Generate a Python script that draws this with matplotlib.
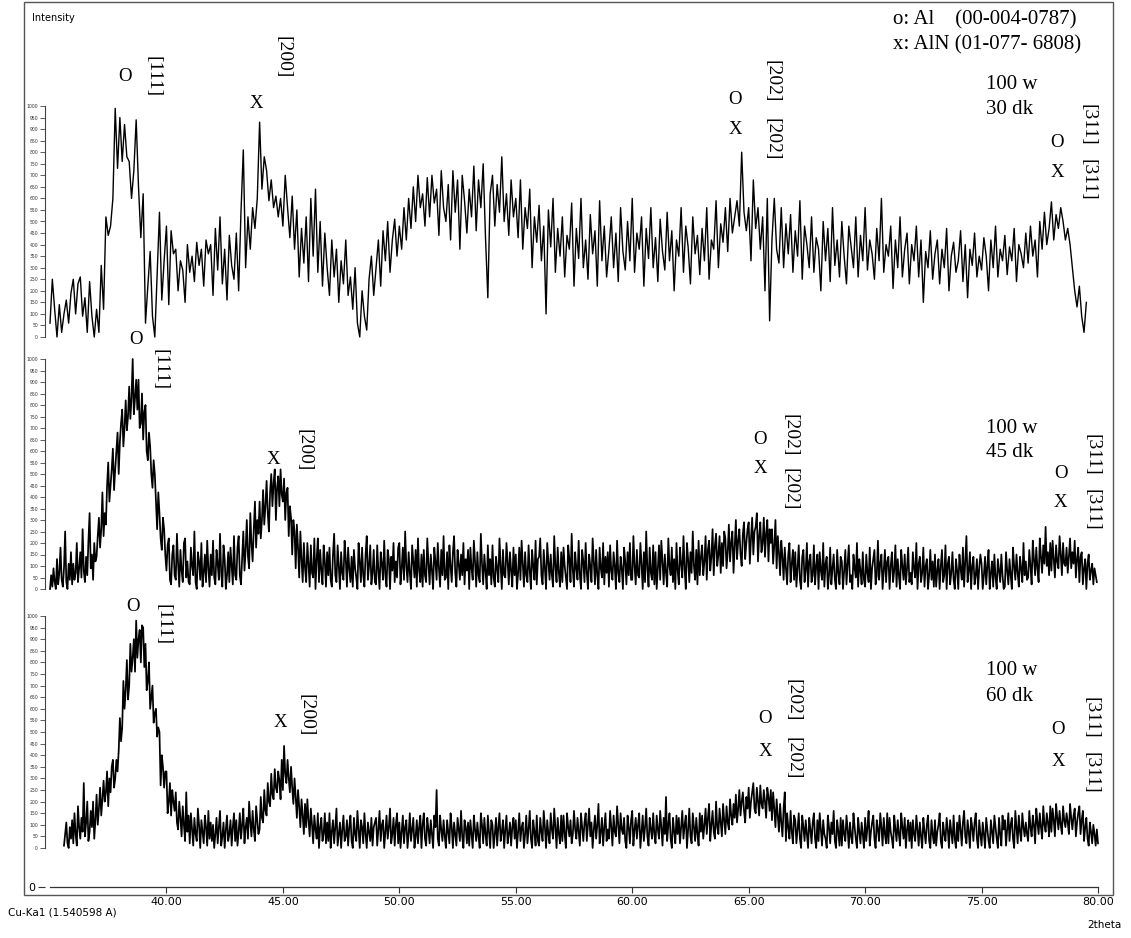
import numpy as np
import matplotlib
matplotlib.use("Agg")
import matplotlib.pyplot as plt
from matplotlib.patches import Rectangle

# ---------------- data ----------------
top_step = 0.1
dense_step = 0.05
top_start = 35.0      # 100 w, 30 dk
mid_start = 35.0      # 100 w, 45 dk
bot_start = 35.6      # 100 w, 60 dk

top_30dk = [
    60, 250, 120, 0, 140, 20, 100, 160, 60, 190,
    250, 100, 230, 260, 90, 170, 20, 240, 90, 0,
    120, 20, 310, 120, 520, 440, 480, 600, 990, 730,
    950, 760, 920, 780, 760, 600, 720, 940, 650, 430,
    620, 60, 220, 370, 90, 0, 270, 540, 160, 330,
    480, 140, 460, 360, 380, 200, 330, 290, 150, 400,
    280, 350, 240, 410, 310, 380, 220, 420, 360, 400,
    180, 470, 290, 520, 230, 380, 160, 440, 310, 250,
    450, 200, 540, 810, 300, 520, 380, 560, 470, 600,
    930, 640, 780, 720, 590, 680, 560, 610, 520, 600,
    480, 700, 560, 430, 610, 380, 550, 260, 470, 320,
    520, 240, 600, 350, 640, 280, 500, 220, 450, 300,
    180, 420, 260, 380, 150, 330, 230, 420, 180, 260,
    120, 300, 60, 0, 200, 90, 30, 250, 350, 180,
    300, 420, 220, 460, 330, 500, 280, 420, 510, 350,
    480, 380, 560, 420, 600, 470, 650, 500, 700, 560,
    620, 480, 690, 520, 700, 580, 640, 440, 720, 560,
    500, 660, 420, 720, 540, 680, 380, 700, 590, 450,
    640, 520, 740, 460, 680, 560, 750, 430, 170, 620,
    700, 480, 660, 540, 780, 500, 620, 440, 680, 520,
    600, 430, 680, 380, 560, 470, 640, 300, 520, 410,
    570, 330, 480, 100, 550, 390, 600, 280, 470, 350,
    520, 260, 440, 380, 580, 220, 470, 340, 600, 300,
    420, 250, 530, 360, 460, 220, 590, 330, 480, 260,
    380, 520, 300, 450, 240, 560, 370, 290, 500, 330,
    600, 280, 450, 380, 520, 220, 470, 340, 560, 300,
    430, 240, 510, 370, 290, 540, 330, 460, 200, 420,
    350, 560, 280, 480, 390, 230, 520, 360, 440, 270,
    470, 330, 560, 250, 420, 380, 590, 300, 490, 410,
    560, 370, 600, 450, 520, 590, 480, 800, 540, 460,
    560, 330, 680, 470, 560, 380, 520, 200, 600, 70,
    420, 600, 380, 320, 560, 300, 490, 360, 530, 280,
    460, 350, 590, 250, 480, 400, 300, 520, 280, 430,
    380, 200, 500, 330, 470, 240, 560, 310, 420, 260,
    500, 350, 230, 480, 390, 300, 520, 260, 440, 330,
    560, 290, 420, 360, 250, 470, 330, 600, 280, 400,
    350, 480, 210, 420, 300, 520, 260, 380, 450, 230,
    400, 330, 480, 260, 420, 150, 370, 300, 460, 250,
    360, 420, 230, 380, 300, 470, 200, 350, 410, 280,
    330, 460, 240, 400, 170, 380, 310, 450, 260, 350,
    290, 430, 350, 200, 420, 300, 480, 260, 380, 330,
    440, 270, 390, 330, 470, 240, 400, 360, 300, 450,
    320, 480, 350, 420, 260, 500, 380, 540, 400, 470,
    585, 420, 530, 470, 560, 500, 420, 470, 400, 300,
    200, 130, 220, 90, 20, 150,
]

mid_45dk = [
    0, 60, 10, 90, 30, 0, 130, 20, 70, 180, 40, 10, 90, 250, 30, 0, 110, 40, 160, 20,
    110, 40, 70, 200, 30, 90, 160, 50, 260, 80, 30, 140, 60, 210, 330, 90, 150, 40, 200, 120,
    140, 230, 310, 180, 260, 420, 230, 330, 280, 450, 550, 380, 450, 520, 610, 430, 520, 600, 680, 500,
    640, 720, 780, 620, 700, 820, 690, 750, 880, 740, 830, 1000, 760, 830, 910, 780, 910, 700, 720, 850,
    650, 770, 800, 600, 560, 680, 620, 500, 440, 560, 500, 380, 260, 420, 330, 220, 170, 310, 260, 150,
    80, 190, 220, 40, 20, 150, 190, 60, 40, 240, 110, 10, 170, 80, 30, 200, 220, 50, 120, 30,
    20, 180, 100, 60, 250, 30, 0, 160, 120, 40, 200, 10, 70, 150, 30, 210, 90, 10, 150, 60,
    210, 50, 20, 170, 110, 40, 240, 70, 10, 190, 130, 0, 60, 160, 30, 180, 100, 20, 230, 60,
    40, 180, 230, 60, 20, 140, 250, 80, 170, 300, 140, 90, 330, 200, 120, 260, 380, 180, 300, 240,
    380, 220, 300, 430, 280, 360, 470, 330, 250, 420, 500, 360, 460, 520, 300, 440, 490, 360, 520, 410,
    380, 480, 300, 420, 440, 230, 360, 310, 150, 300, 250, 90, 280, 180, 50, 250, 130, 30, 200, 90,
    30, 200, 110, 10, 190, 70, 50, 220, 0, 130, 220, 30, 170, 80, 20, 190, 120, 10, 160, 60,
    180, 40, 10, 150, 240, 60, 30, 190, 100, 0, 160, 70, 40, 210, 130, 10, 180, 90, 30, 140,
    10, 170, 90, 50, 0, 200, 120, 30, 180, 60, 10, 150, 230, 40, 100, 190, 20, 70, 170, 30,
    20, 190, 80, 0, 160, 110, 40, 210, 60, 10, 170, 130, 0, 140, 80, 200, 30, 120, 50, 180,
    200, 20, 90, 180, 40, 250, 100, 30, 160, 70, 0, 190, 120, 50, 170, 10, 220, 80, 30, 150,
    10, 170, 60, 30, 220, 110, 20, 150, 80, 0, 180, 120, 40, 200, 90, 10, 170, 60, 230, 40,
    50, 160, 0, 190, 100, 30, 160, 230, 70, 10, 170, 110, 40, 150, 60, 200, 20, 130, 80, 170,
    0, 180, 90, 40, 210, 120, 10, 160, 60, 30, 240, 110, 20, 150, 80, 0, 190, 60, 130, 20,
    190, 50, 10, 140, 90, 30, 220, 100, 0, 170, 60, 50, 200, 120, 20, 160, 80, 10, 180, 60,
    150, 0, 70, 180, 40, 210, 110, 10, 160, 60, 30, 190, 80, 0, 170, 100, 40, 210, 20, 130,
    140, 220, 60, 20, 170, 90, 0, 200, 120, 40, 150, 60, 10, 230, 100, 30, 180, 70, 10, 160,
    30, 180, 100, 50, 0, 190, 130, 30, 240, 80, 10, 160, 90, 40, 210, 60, 0, 170, 120, 30,
    200, 70, 0, 150, 100, 30, 220, 120, 20, 170, 60, 0, 180, 90, 50, 200, 20, 140, 70, 160,
    10, 190, 80, 40, 160, 100, 0, 210, 70, 30, 140, 90, 0, 180, 120, 20, 160, 60, 200, 40,
    40, 230, 100, 20, 170, 60, 50, 200, 110, 0, 160, 30, 250, 90, 10, 180, 70, 40, 190, 20,
    160, 0, 90, 190, 40, 210, 120, 20, 150, 70, 10, 220, 100, 60, 180, 30, 130, 0, 200, 80,
    20, 180, 110, 50, 230, 90, 0, 200, 130, 30, 160, 70, 250, 100, 40, 170, 20, 210, 60, 140,
    190, 60, 120, 230, 40, 170, 210, 80, 140, 260, 60, 190, 240, 100, 150, 230, 70, 200, 100, 250,
    220, 90, 160, 280, 120, 200, 250, 70, 180, 300, 130, 210, 260, 150, 100, 240, 290, 130, 200, 260,
    290, 110, 220, 310, 150, 250, 270, 330, 120, 230, 290, 160, 200, 310, 140, 240, 300, 120, 260, 200,
    260, 110, 190, 300, 90, 230, 160, 60, 210, 140, 40, 180, 90, 20, 150, 200, 30, 110, 170, 40,
    160, 10, 90, 190, 40, 0, 140, 170, 30, 80, 200, 10, 120, 150, 30, 60, 190, 20, 100, 150,
    0, 160, 80, 40, 200, 10, 110, 140, 0, 60, 180, 20, 90, 150, 40, 0, 170, 70, 20, 140,
    120, 0, 80, 170, 20, 110, 190, 30, 60, 0, 150, 90, 50, 200, 10, 130, 80, 20, 160, 40,
    10, 150, 70, 30, 180, 0, 90, 130, 170, 20, 60, 210, 40, 110, 150, 0, 80, 170, 30, 120,
    140, 0, 100, 160, 30, 80, 190, 10, 130, 60, 0, 170, 100, 40, 150, 20, 90, 180, 30, 70,
    20, 160, 90, 50, 200, 0, 110, 140, 30, 70, 180, 10, 100, 130, 0, 60, 170, 40, 120, 10,
    150, 10, 80, 130, 0, 100, 170, 30, 60, 190, 0, 110, 140, 20, 70, 160, 40, 0, 130, 80,
    0, 150, 90, 40, 180, 10, 120, 230, 30, 80, 160, 0, 100, 140, 20, 60, 130, 0, 90, 150,
    110, 0, 60, 140, 20, 100, 170, 0, 70, 120, 10, 150, 50, 0, 130, 80, 30, 150, 60, 0,
    10, 160, 80, 20, 130, 60, 0, 180, 100, 40, 150, 70, 10, 140, 90, 30, 200, 60, 120, 40,
    50, 170, 100, 20, 210, 130, 60, 180, 90, 30, 220, 140, 70, 190, 110, 270, 100, 160, 60, 200,
    80, 210, 130, 50, 190, 120, 90, 230, 150, 60, 200, 110, 100, 180, 70, 140, 220, 90, 160, 110,
    210, 50, 130, 180, 30, 140, 160, 20, 90, 130, 0, 110, 150, 40, 80, 110, 20, 90, 60, 30,
]

bot_60dk = [
    10, 60, 110, 20, 0, 90, 40, 120,
    20, 150, 60, 10, 180, 90, 40, 130, 70, 280, 50, 110, 200, 30, 70, 160, 90, 200, 40, 120,
    230, 100, 170, 260, 140, 210, 290, 200, 240, 330, 180, 300, 240, 350, 380, 260, 300, 380, 330, 420,
    560, 460, 520, 720, 600, 680, 810, 640, 700, 880, 760, 820, 900, 760, 980, 820, 900, 940, 800, 960,
    950, 780, 880, 680, 720, 800, 600, 650, 700, 540, 580, 600, 480, 520, 500, 270, 400, 350, 260, 330,
    330, 150, 200, 280, 140, 250, 200, 160, 240, 110, 80, 200, 130, 50, 180, 100, 30, 240, 70, 140,
    20, 150, 80, 10, 130, 60, 30, 170, 100, 0, 120, 70, 20, 140, 90, 10, 160, 40, 110, 30,
    100, 0, 60, 130, 20, 90, 160, 10, 50, 110, 0, 80, 140, 30, 60, 120, 10, 90, 150, 30,
    120, 10, 70, 150, 40, 100, 170, 20, 90, 130, 40, 200, 110, 50, 160, 80, 30, 180, 120, 60,
    80, 220, 130, 110, 250, 160, 140, 280, 200, 180, 320, 230, 210, 340, 260, 240, 330, 290, 210, 380,
    250, 440, 320, 280, 380, 300, 240, 350, 260, 190, 300, 220, 130, 250, 180, 90, 210, 140, 60, 190,
    90, 210, 120, 50, 170, 100, 20, 140, 80, 40, 150, 0, 90, 130, 30, 60, 150, 20, 110, 30,
    150, 0, 70, 120, 20, 90, 170, 10, 60, 110, 0, 80, 140, 30, 50, 120, 10, 90, 140, 30,
    0, 130, 60, 30, 160, 80, 0, 120, 90, 20, 150, 60, 0, 110, 70, 30, 130, 10, 90, 110,
    130, 10, 80, 160, 30, 100, 120, 0, 70, 140, 40, 90, 170, 20, 60, 130, 10, 100, 150, 20,
    110, 0, 70, 140, 20, 90, 120, 0, 60, 150, 30, 80, 130, 0, 50, 120, 20, 90, 140, 0,
    100, 150, 40, 10, 130, 80, 20, 120, 60, 0, 140, 90, 250, 40, 10, 140, 80, 30, 120, 50,
    0, 120, 70, 20, 150, 90, 0, 110, 60, 10, 130, 80, 30, 160, 50, 0, 120, 90, 20, 110,
    10, 120, 60, 0, 140, 80, 30, 110, 50, 0, 150, 100, 20, 130, 60, 10, 140, 70, 0, 120,
    100, 0, 60, 130, 10, 90, 150, 30, 70, 120, 0, 80, 140, 20, 60, 110, 10, 90, 130, 40,
    120, 0, 70, 150, 30, 90, 110, 0, 60, 140, 20, 80, 160, 40, 0, 120, 70, 10, 140, 30,
    10, 130, 70, 30, 160, 90, 0, 120, 60, 20, 150, 80, 40, 170, 90, 0, 130, 60, 20, 140,
    30, 140, 60, 0, 150, 90, 50, 120, 20, 60, 160, 80, 40, 130, 70, 10, 150, 90, 30, 110,
    150, 30, 100, 170, 50, 110, 0, 80, 140, 40, 100, 190, 20, 70, 130, 10, 90, 150, 30, 80,
    40, 160, 90, 10, 140, 70, 50, 180, 100, 20, 150, 80, 60, 130, 30, 0, 140, 90, 20, 120,
    160, 10, 80, 130, 40, 100, 150, 0, 70, 140, 30, 90, 170, 50, 10, 130, 80, 40, 150, 60,
    20, 140, 80, 40, 160, 90, 10, 130, 60, 220, 30, 100, 150, 40, 0, 130, 70, 20, 140, 60,
    130, 20, 90, 160, 40, 100, 140, 0, 80, 170, 50, 20, 150, 90, 30, 130, 60, 10, 150, 70,
    140, 40, 100, 170, 60, 130, 190, 30, 100, 160, 70, 40, 200, 90, 60, 170, 110, 50, 190, 120,
    60, 180, 110, 80, 210, 140, 100, 190, 130, 230, 110, 170, 250, 140, 200, 240, 160, 110, 220, 170,
    260, 130, 200, 240, 280, 170, 150, 260, 200, 140, 270, 190, 170, 250, 200, 130, 260, 220, 160, 250,
    120, 240, 170, 90, 210, 140, 70, 190, 110, 50, 170, 240, 30, 150, 90, 40, 160, 70, 20, 140,
    120, 20, 80, 150, 40, 0, 140, 90, 30, 120, 60, 0, 130, 80, 20, 110, 150, 40, 0, 120,
    30, 150, 80, 10, 120, 60, 40, 0, 140, 90, 20, 110, 60, 160, 30, 0, 120, 70, 10, 130,
    10, 120, 60, 30, 140, 80, 0, 110, 50, 20, 150, 90, 40, 0, 130, 70, 20, 110, 60, 0,
    130, 30, 90, 160, 10, 70, 110, 140, 40, 0, 120, 80, 30, 150, 90, 10, 130, 60, 20, 150,
    20, 130, 70, 40, 0, 140, 80, 30, 120, 60, 10, 150, 90, 40, 130, 0, 80, 120, 30, 110,
    0, 120, 60, 30, 140, 80, 10, 110, 50, 0, 130, 70, 20, 100, 140, 30, 0, 120, 60, 20,
    120, 10, 70, 100, 150, 30, 0, 110, 60, 30, 130, 80, 0, 120, 70, 20, 140, 40, 0, 110,
    30, 140, 80, 10, 110, 160, 50, 20, 120, 70, 0, 130, 90, 30, 110, 150, 40, 0, 120, 60,
    10, 110, 60, 0, 130, 80, 30, 0, 120, 70, 20, 140, 90, 40, 0, 130, 60, 10, 140, 80,
    120, 10, 80, 150, 30, 100, 130, 40, 0, 160, 90, 20, 140, 70, 30, 150, 90, 50, 110, 60,
    30, 160, 90, 50, 140, 100, 20, 170, 110, 60, 150, 90, 40, 180, 100, 70, 150, 110, 50, 180,
    70, 170, 120, 50, 190, 130, 80, 160, 100, 60, 180, 120, 90, 150, 110, 60, 190, 130, 80, 140,
    170, 50, 110, 150, 180, 60, 120, 160, 30, 90, 130, 40, 10, 110, 70, 20, 100, 60, 10, 80,
    20,
]

x_ticks = [40, 45, 50, 55, 60, 65, 70, 75, 80]
y_ticks = list(range(0, 1001, 50))

legend_lines = ["o: Al    (00-004-0787)", "x: AlN (01-077- 6808)"]
panel_labels = [["100 w", "30 dk"], ["100 w", "45 dk"], ["100 w", "60 dk"]]

# ---------------- layout ----------------
W, H = 1131, 938
fig = plt.figure(figsize=(W / 100, H / 100), dpi=100)
fig.patch.set_facecolor("white")


def fx(px):
    return px / W


def fy(py):
    return 1 - py / H


X_LEFT, X_RIGHT = 45, 1098
XMIN, XMAX = 34.785, 80.0
SERIF = "Liberation Serif"
FS_MARK = 13.5
FS_HKL = 14
FS_TXT = 15

# outer frame
fig.add_artist(Rectangle((fx(24), fy(895)), fx(1113 - 24), (895 - 2) / H,
                         transform=fig.transFigure, fill=False,
                         edgecolor="#555555", linewidth=1.0))

# outer x axis
axo = fig.add_axes([fx(X_LEFT), fy(887), fx(X_RIGHT - X_LEFT), 20 / H])
axo.patch.set_alpha(0)
axo.set_xlim(XMIN, XMAX)
axo.set_ylim(0, 1)
for s in ("top", "right", "left"):
    axo.spines[s].set_visible(False)
axo.spines["bottom"].set_bounds(35, 80)
axo.spines["bottom"].set_color("#333333")
axo.spines["bottom"].set_linewidth(0.9)
axo.set_xticks(x_ticks)
axo.set_xticklabels([f"{t:.2f}" for t in x_ticks])
axo.set_yticks([0])
axo.set_yticklabels(["0"])
axo.tick_params(axis="x", direction="out", length=4, width=0.8, labelsize=8,
                color="#333333", pad=3)
axo.tick_params(axis="y", direction="out", length=5, width=0.8, labelsize=8,
                color="#333333", pad=2)


def make_panel(top_px, bottom_px, start, step, values, lw):
    ax = fig.add_axes([fx(X_LEFT), fy(bottom_px), fx(X_RIGHT - X_LEFT),
                       (bottom_px - top_px) / H])
    ax.patch.set_alpha(0)
    x = np.round(start + step * np.arange(len(values)), 3)
    ax.plot(x, values, color="black", linewidth=lw, clip_on=False)
    ax.set_xlim(XMIN, XMAX)
    ax.set_ylim(0, 1000)
    for s in ("top", "right", "bottom"):
        ax.spines[s].set_visible(False)
    ax.spines["left"].set_color("#444444")
    ax.spines["left"].set_linewidth(0.8)
    ax.set_xticks([])
    ax.set_yticks(y_ticks)
    ax.tick_params(axis="y", direction="out", length=3.5, width=0.6,
                   labelsize=3.3, color="#444444", labelcolor="#333333", pad=1.5)
    return ax


ax_top = make_panel(106, 337, top_start, top_step, top_30dk, 1.0)
ax_mid = make_panel(359, 589, mid_start, dense_step, mid_45dk, 1.25)
ax_bot = make_panel(616, 848, bot_start, dense_step, bot_60dk, 1.25)

# peak marks: (text, theta, intensity, rotation)
top_marks = [("O", 38.24, 1126, 0), ("[111]", 39.44, 1126, 270),
             ("X", 43.86, 1009, 0), ("[200]", 45.02, 1212, 270),
             ("O", 64.43, 1030, 0), ("X", 64.43, 900, 0),
             ("[202]", 66.0, 1105, 270), ("[202]", 66.0, 855, 270),
             ("O", 78.26, 844, 0), ("X", 78.26, 710, 0),
             ("[311]", 79.59, 918, 270), ("[311]", 79.59, 680, 270)]
mid_marks = [("O", 38.71, 1083, 0), ("[111]", 39.74, 952, 270),
             ("X", 44.59, 561, 0), ("[200]", 45.90, 604, 270),
             ("O", 65.50, 648, 0), ("X", 65.50, 526, 0),
             ("[202]", 66.79, 670, 270), ("[202]", 66.79, 435, 270),
             ("O", 78.39, 504, 0), ("X", 78.39, 374, 0),
             ("[311]", 79.76, 583, 270), ("[311]", 79.76, 343, 270)]
bot_marks = [("O", 38.58, 1043, 0), ("[111]", 39.87, 961, 270),
             ("X", 44.89, 543, 0), ("[200]", 46.01, 573, 270),
             ("O", 65.72, 560, 0), ("X", 65.72, 414, 0),
             ("[202]", 66.92, 638, 270), ("[202]", 66.92, 388, 270),
             ("O", 78.30, 509, 0), ("X", 78.30, 371, 0),
             ("[311]", 79.68, 560, 270), ("[311]", 79.68, 323, 270)]

for ax, marks in ((ax_top, top_marks), (ax_mid, mid_marks), (ax_bot, bot_marks)):
    for txt, tx, ty, rot in marks:
        ax.text(tx, ty, txt, rotation=rot, ha="center", va="center",
                fontsize=FS_MARK if rot == 0 else FS_HKL, family=SERIF,
                clip_on=False)

# condition labels
label_pos = [(ax_top, 1091, 983), (ax_mid, 700, 595), (ax_bot, 767, 655)]
for (ax, y1, y2), (l1, l2) in zip(label_pos, panel_labels):
    ax.text(75.17, y1, l1, ha="left", va="center", fontsize=FS_TXT, family=SERIF)
    ax.text(75.17, y2, l2, ha="left", va="center", fontsize=FS_TXT, family=SERIF)

# legend text
fig.text(fx(893), fy(20), legend_lines[0], ha="left", va="center",
         fontsize=FS_TXT, family=SERIF)
fig.text(fx(893), fy(45), legend_lines[1], ha="left", va="center",
         fontsize=FS_TXT, family=SERIF)

# axis captions
fig.text(fx(32), fy(18), "Intensity", ha="left", va="center", fontsize=7,
         family="DejaVu Sans")
fig.text(fx(8), fy(912), "Cu-Ka1 (1.540598 A)", ha="left", va="center",
         fontsize=7.5, family="DejaVu Sans")
fig.text(fx(1122), fy(925), "2theta", ha="right", va="center", fontsize=7.5,
         family="DejaVu Sans")

fig.savefig("out.png", dpi=100, facecolor="white")
